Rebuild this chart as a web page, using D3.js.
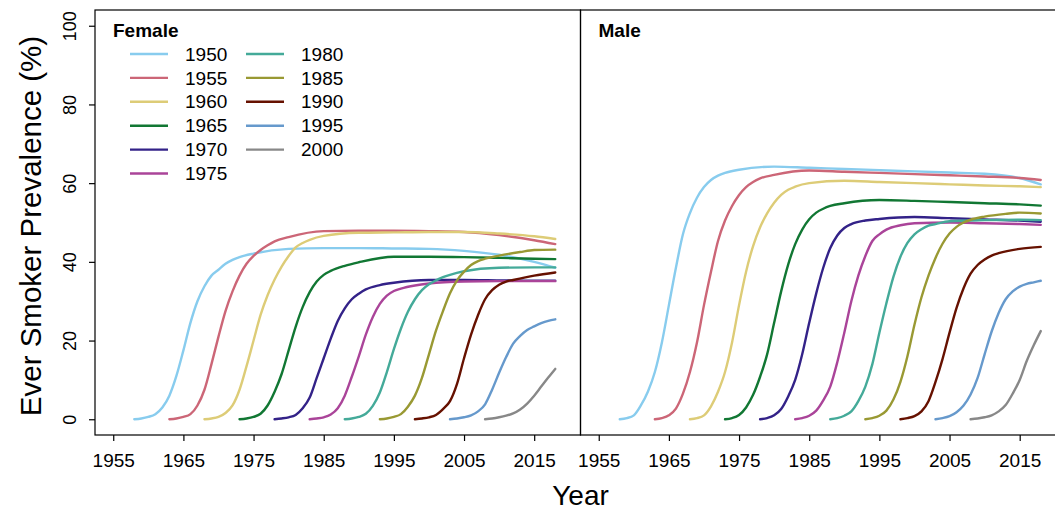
<!DOCTYPE html>
<html>
<head>
<meta charset="utf-8">
<script src="https://cdn.jsdelivr.net/npm/d3@7"></script>
<style>
  body { margin: 0; background: #fff; }
  svg { display: block; font-family: "Liberation Sans", Arial, Helvetica, sans-serif; }
</style>
</head>
<body>
<div id="chart"></div>
<script>
// birth cohorts and their colours
const cohorts = ["1950", "1955", "1960", "1965", "1970", "1975", "1980", "1985", "1990", "1995", "2000"];
const cohortColors = ["#88CCEE", "#CC6677", "#DDCC77", "#117733", "#332288", "#AA4499",
                      "#44AA99", "#999933", "#661100", "#6699CC", "#888888"];
const panels = ["Female", "Male"];
const xTicks = [1955, 1965, 1975, 1985, 1995, 2005, 2015];
const yTicks = [0, 20, 40, 60, 80, 100];

// ever-smoker prevalence (%) by calendar year, one series per cohort
const female = [
  [[1958,0],[1959,0.2],[1960,0.6],[1961,1.3],[1962,3],[1963,6],[1964,11],[1965,17.5],[1966,24.5],[1967,30],[1968,33.8],[1969,36.5],[1970,38],[1971,39.5],[1972,40.5],[1973,41.2],[1975,42.1],[1980,43.3],[1985,43.5],[1990,43.5],[1995,43.4],[2000,43.3],[2005,42.8],[2010,41.8],[2015,40],[2018,38.5]],
  [[1963,0],[1964,0.2],[1965,0.6],[1966,1.3],[1967,3.5],[1968,7.5],[1969,14],[1970,21],[1971,27.5],[1972,32.5],[1973,36.5],[1974,39.5],[1975,41.5],[1976,43],[1977,44.2],[1978,45.2],[1980,46.3],[1985,47.8],[1990,47.9],[1995,47.9],[2000,47.8],[2005,47.6],[2010,46.8],[2015,45.5],[2018,44.5]],
  [[1968,0],[1969,0.2],[1970,0.6],[1971,1.6],[1972,3.5],[1973,7.5],[1974,13.5],[1975,20],[1976,26.5],[1977,31.5],[1978,35.5],[1979,38.8],[1980,41.5],[1981,43.7],[1982,44.8],[1983,45.6],[1985,46.6],[1990,47.4],[1995,47.5],[2000,47.6],[2005,47.6],[2010,47.2],[2015,46.5],[2018,45.8]],
  [[1973,0],[1974,0.2],[1975,0.6],[1976,1.4],[1977,3.5],[1978,7],[1979,11.5],[1980,17.5],[1981,23.5],[1982,28.5],[1983,32.3],[1984,35],[1985,36.7],[1986,37.7],[1988,39],[1990,39.9],[1995,41.3],[2000,41.3],[2005,41.2],[2010,41],[2015,40.8],[2018,40.7]],
  [[1978,0],[1979,0.2],[1980,0.5],[1981,1.1],[1982,2.8],[1983,5.5],[1984,10.5],[1985,15.5],[1986,20.5],[1987,25],[1988,28.2],[1989,30.5],[1990,31.9],[1991,33],[1993,34.1],[1995,34.7],[2000,35.4],[2005,35.4],[2010,35.3],[2015,35.2],[2018,35.2]],
  [[1983,0],[1984,0.2],[1985,0.5],[1986,1.2],[1987,2.8],[1988,6],[1989,10.8],[1990,16],[1991,21.5],[1992,26],[1993,29.3],[1994,31.4],[1995,32.6],[1996,33.2],[1998,34],[2000,34.5],[2005,35],[2010,35.1],[2015,35.1],[2018,35.1]],
  [[1988,0],[1989,0.2],[1990,0.6],[1991,1.4],[1992,3.4],[1993,6.8],[1994,12],[1995,17.8],[1996,23],[1997,27.3],[1998,30.5],[1999,32.8],[2000,34.3],[2001,35.3],[2002,36.1],[2003,36.7],[2005,37.6],[2010,38.5],[2015,38.6],[2018,38.6]],
  [[1993,0],[1994,0.2],[1995,0.6],[1996,1.3],[1997,3.2],[1998,6],[1999,10.5],[2000,16.5],[2001,22.5],[2002,27.5],[2003,32],[2004,35.3],[2005,37.5],[2006,39.2],[2007,40.2],[2008,40.8],[2010,41.6],[2013,42.5],[2015,43],[2018,43.1]],
  [[1998,0],[1999,0.2],[2000,0.5],[2001,1.1],[2002,2.6],[2003,4.6],[2004,9],[2005,15.5],[2006,21.5],[2007,26.5],[2008,30.5],[2009,32.8],[2010,34.2],[2011,35],[2012,35.4],[2015,36.5],[2018,37.3]],
  [[2003,0],[2004,0.2],[2005,0.5],[2006,1],[2007,2],[2008,3.8],[2009,7.5],[2010,11.8],[2011,15.8],[2012,19.2],[2013,21.2],[2014,22.7],[2015,23.6],[2016,24.4],[2017,25],[2018,25.4]],
  [[2008,0],[2009,0.2],[2010,0.5],[2011,0.9],[2012,1.5],[2013,2.5],[2014,4],[2015,6],[2016,8.3],[2017,10.6],[2018,12.8]]
];

const male = [
  [[1958,0],[1959,0.3],[1960,1],[1961,3.5],[1962,7],[1963,12],[1964,19.5],[1965,29],[1966,38.5],[1967,47],[1968,52.4],[1969,56.3],[1970,59],[1971,60.8],[1972,61.9],[1973,62.6],[1975,63.4],[1980,64.2],[1985,63.9],[1990,63.6],[1995,63.3],[2000,63],[2005,62.7],[2010,62.4],[2015,61.3],[2018,59.7]],
  [[1963,0],[1964,0.3],[1965,1],[1966,2.7],[1967,6.5],[1968,12],[1969,19.5],[1970,29],[1971,37.5],[1972,45.3],[1973,50.5],[1974,54.2],[1975,57],[1976,59],[1977,60.3],[1978,61.2],[1980,62.1],[1985,63.2],[1990,62.9],[1995,62.6],[2000,62.3],[2005,62],[2010,61.7],[2015,61.3],[2018,60.8]],
  [[1968,0],[1969,0.3],[1970,1],[1971,3.3],[1972,7],[1973,12],[1974,19.5],[1975,29],[1976,37.5],[1977,44],[1978,48.8],[1979,52.3],[1980,55],[1981,57],[1982,58.3],[1983,59.1],[1985,60],[1990,60.6],[1995,60.3],[2000,60],[2005,59.7],[2010,59.4],[2015,59.2],[2018,59]],
  [[1973,0],[1974,0.3],[1975,1.1],[1976,3],[1977,6.2],[1978,10.8],[1979,16.5],[1980,24.5],[1981,32.5],[1982,39.3],[1983,44.5],[1984,48.2],[1985,50.8],[1986,52.5],[1987,53.5],[1988,54.2],[1990,54.9],[1995,55.7],[2000,55.5],[2005,55.2],[2010,54.9],[2015,54.6],[2018,54.3]],
  [[1978,0],[1979,0.3],[1980,1],[1981,2.6],[1982,5.8],[1983,10],[1984,16.5],[1985,24.5],[1986,32],[1987,38.5],[1988,43.5],[1989,46.7],[1990,48.6],[1991,49.6],[1993,50.5],[1995,50.9],[2000,51.4],[2005,51.1],[2010,50.8],[2015,50.5],[2018,50.2]],
  [[1983,0],[1984,0.3],[1985,0.9],[1986,2.2],[1987,4.8],[1988,8.3],[1989,14.5],[1990,22],[1991,30],[1992,36.5],[1993,41.5],[1994,45.3],[1995,47],[1996,48.2],[1998,49.3],[2000,49.8],[2005,50],[2010,49.8],[2015,49.6],[2018,49.4]],
  [[1988,0],[1989,0.3],[1990,0.9],[1991,2],[1992,4.6],[1993,8.3],[1994,14],[1995,22],[1996,29.5],[1997,36.2],[1998,41.3],[1999,44.8],[2000,47],[2001,48.3],[2002,49.2],[2003,49.6],[2005,50.3],[2010,50.6],[2015,50.7],[2018,50.6]],
  [[1993,0],[1994,0.3],[1995,0.9],[1996,2.2],[1997,5],[1998,9.5],[1999,16],[2000,24],[2001,31],[2002,36.5],[2003,41],[2004,44.6],[2005,47.2],[2006,48.9],[2007,50],[2008,50.7],[2010,51.5],[2013,52.2],[2015,52.5],[2018,52.3]],
  [[1998,0],[1999,0.3],[2000,0.8],[2001,2],[2002,4.6],[2003,9.5],[2004,15.3],[2005,22],[2006,28.3],[2007,33.3],[2008,37],[2009,39.2],[2010,40.6],[2011,41.6],[2012,42.2],[2015,43.3],[2018,43.8]],
  [[2003,0],[2004,0.3],[2005,0.8],[2006,1.8],[2007,3.5],[2008,6.3],[2009,10.5],[2010,16.5],[2011,22.3],[2012,27],[2013,30.5],[2014,32.5],[2015,33.7],[2016,34.4],[2017,34.8],[2018,35.2]],
  [[2008,0],[2009,0.2],[2010,0.5],[2011,1],[2012,2],[2013,3.6],[2014,6.5],[2015,10],[2016,14.8],[2017,18.8],[2018,22.4]]
];

const width = 1055, height = 511;
const plotTop = 10, plotBottom = 435;
const panelEdges = [[95, 580.5], [580.5, 1066]];
const xDomain = [1952.4, 2021.6];

const svg = d3.select('#chart').append('svg')
    .attr('width', width)
    .attr('height', height);

const y = d3.scaleLinear().domain([-4, 104]).range([plotBottom, plotTop]);

[female, male].forEach((series, p) => {
    const x = d3.scaleLinear().domain(xDomain).range(panelEdges[p]);
    const g = svg.append('g');

    const clipId = 'clip' + p;
    g.append('clipPath').attr('id', clipId)
        .append('rect')
        .attr('x', panelEdges[p][0]).attr('y', plotTop)
        .attr('width', panelEdges[p][1] - panelEdges[p][0]).attr('height', plotBottom - plotTop);

    const line = d3.line()
        .curve(d3.curveMonotoneX)
        .x(d => x(d[0]))
        .y(d => y(d[1]));

    g.append('g')
        .attr('clip-path', `url(#${clipId})`)
        .selectAll('path')
        .data(series)
        .join('path')
        .attr('fill', 'none')
        .attr('stroke', (d, i) => cohortColors[i])
        .attr('stroke-width', 2.4)
        .attr('stroke-linejoin', 'round')
        .attr('stroke-linecap', 'round')
        .attr('d', line);

    // frame
    g.append('rect')
        .attr('x', panelEdges[p][0]).attr('y', plotTop)
        .attr('width', panelEdges[p][1] - panelEdges[p][0]).attr('height', plotBottom - plotTop)
        .attr('fill', 'none')
        .attr('stroke', '#000')
        .attr('stroke-width', 1.2);

    const xAxis = g.append('g')
        .attr('transform', `translate(0,${plotBottom})`)
        .call(d3.axisBottom(x).tickValues(xTicks).tickFormat(d3.format('d')).tickSize(6).tickPadding(13));
    xAxis.select('.domain').remove();
    xAxis.selectAll('line').attr('stroke-width', 1.2);
    xAxis.selectAll('text').attr('font-size', 19).attr('font-family', null).attr('fill', '#000');

    g.append('text')
        .attr('x', panelEdges[p][0] + 18)
        .attr('y', 37)
        .attr('font-size', 19)
        .attr('font-weight', 'bold')
        .text(panels[p]);
});

// y axis on the left panel only
const yAxis = svg.append('g')
    .attr('transform', `translate(${panelEdges[0][0]},0)`)
    .call(d3.axisLeft(y).tickValues(yTicks).tickSize(6));
yAxis.select('.domain').remove();
yAxis.selectAll('line').attr('stroke-width', 1.2);
yAxis.selectAll('text')
    .attr('transform', 'rotate(-90)')
    .attr('x', 0)
    .attr('y', -19)
    .attr('dy', 0)
    .attr('text-anchor', 'middle')
    .attr('font-size', 18)
    .attr('font-family', null)
    .attr('fill', '#000');

// axis titles
svg.append('text')
    .attr('transform', 'translate(41,226) rotate(-90)')
    .attr('text-anchor', 'middle')
    .attr('font-size', 29.5)
    .text('Ever Smoker Prevalence (%)');

svg.append('text')
    .attr('x', 580.5)
    .attr('y', 505)
    .attr('text-anchor', 'middle')
    .attr('font-size', 28)
    .text('Year');

// legend (female panel)
const legend = svg.append('g');
const rowH = 23.9;
cohorts.forEach((c, i) => {
    const col = i < 6 ? 0 : 1;
    const row = i < 6 ? i : i - 6;
    const cy = 54 + row * rowH;
    const lx = col === 0 ? 130 : 246;
    legend.append('line')
        .attr('x1', lx).attr('x2', lx + 38)
        .attr('y1', cy).attr('y2', cy)
        .attr('stroke', cohortColors[i])
        .attr('stroke-width', 2.4);
    legend.append('text')
        .attr('x', lx + 55)
        .attr('y', cy)
        .attr('dy', '0.35em')
        .attr('font-size', 19)
        .text(c);
});
</script>
</body>
</html>
